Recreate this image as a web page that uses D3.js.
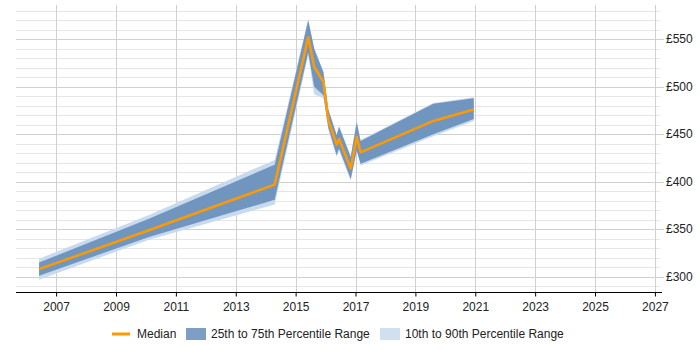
<!DOCTYPE html>
<html>
<head>
<meta charset="utf-8">
<script src="https://cdn.jsdelivr.net/npm/d3@7"></script>
<style>
  body { margin: 0; background: #fff; }
  text { font-family: "Liberation Sans", Arial, sans-serif; font-size: 12px; fill: #222; }
</style>
</head>
<body>
<div id="wrapper"></div>
<script>
// data
const years   = [2006.43, 2010.1, 2014.3, 2015.42, 2015.62, 2015.93, 2016.09, 2016.37, 2016.45, 2016.84, 2017.04, 2017.17, 2019.6, 2020.95]
const p10     = [297, 339, 376, 533, 492, 488, 455, 426, 433, 401, 432, 417, 448, 464]
const p25     = [301, 342, 381, 536, 500, 491, 457, 428, 435, 403, 433, 419, 450, 466]
const median  = [308, 349, 397, 552, 521, 505, 465, 439, 445, 414, 447, 431, 464, 476]
const p75     = [315, 361, 418, 570, 540, 515, 476, 449, 458, 426, 463, 443, 482, 488]
const p90     = [319, 365, 423, 571, 541, 516, 477, 450, 459, 427, 464, 444, 483, 489]
const xTicks  = [2007, 2009, 2011, 2013, 2015, 2017, 2019, 2021, 2023, 2025, 2027]
const yTicks  = [300, 350, 400, 450, 500, 550]
const legendLabels = ["Median", "25th to 75th Percentile Range", "10th to 90th Percentile Range"]

const width = 700, height = 350
const dims = { left: 16, right: 660, top: 5, bottom: 292 }

const svg = d3.select("#wrapper").append("svg")
    .attr("width", width)
    .attr("height", height)

const x = d3.scaleLinear().domain([2005.66, 2027.17]).range([dims.left, dims.right])
const y = d3.scaleLinear().domain([284, 586]).range([dims.bottom, dims.top])

const rows = years.map((yr, i) => ({ yr, p10: p10[i], p25: p25[i], med: median[i], p75: p75[i], p90: p90[i] }))

// grid
const minor = d3.range(290, 590, 10).filter(v => v % 50 != 0 && y(v) > dims.top && y(v) < dims.bottom)
svg.append("g").selectAll("line").data(minor).join("line")
    .attr("x1", dims.left).attr("x2", dims.right)
    .attr("y1", d => Math.round(y(d)) + 0.5).attr("y2", d => Math.round(y(d)) + 0.5)
    .attr("stroke", "#e6e6e6")
svg.append("g").selectAll("line").data(yTicks).join("line")
    .attr("x1", dims.left).attr("x2", dims.right + 4)
    .attr("y1", d => Math.round(y(d)) + 0.5).attr("y2", d => Math.round(y(d)) + 0.5)
    .attr("stroke", "#d0d0d0")
svg.append("g").selectAll("line").data(xTicks).join("line")
    .attr("x1", d => Math.round(x(d)) + 0.5).attr("x2", d => Math.round(x(d)) + 0.5)
    .attr("y1", dims.top).attr("y2", dims.bottom)
    .attr("stroke", "#d0d0d0")

// bands
const band = (lo, hi) => d3.area().x(d => x(d.yr)).y0(d => y(d[lo])).y1(d => y(d[hi]))
svg.append("path").datum(rows)
    .attr("d", band("p10", "p90"))
    .attr("fill", "#c8daee")
svg.append("path").datum(rows)
    .attr("d", band("p25", "p75"))
    .attr("fill", "#7096c0")
svg.append("path").datum(rows)
    .attr("d", d3.line().x(d => x(d.yr)).y(d => y(d.med)))
    .attr("fill", "none")
    .attr("stroke", "#ff9900")
    .attr("stroke-width", 2.5)
    .attr("stroke-linejoin", "round")

// x axis
const xAxis = svg.append("g")
    .attr("transform", `translate(0,${dims.bottom + 0.5})`)
    .call(d3.axisBottom(x).tickValues(xTicks).tickFormat(d3.format("d")).tickSize(4).tickPadding(6))
xAxis.select(".domain").attr("d", `M${dims.left},0H${dims.right + 2}`).attr("stroke", "#000")
xAxis.selectAll("text").style("font-size", "12px").attr("fill", "#222")

// y labels on the right
svg.append("g").selectAll("text").data(yTicks).join("text")
    .attr("x", dims.right + 6)
    .attr("y", d => y(d))
    .attr("dy", "0.35em")
    .text(d => "£" + d)

// legend
const legend = svg.append("g").attr("transform", "translate(0,334)")
legend.append("line")
    .attr("x1", 112).attr("x2", 130)
    .attr("stroke", "#ff9900").attr("stroke-width", 3)
legend.append("text").attr("x", 137).attr("dy", "0.35em").text(legendLabels[0])
legend.append("rect").attr("x", 186).attr("y", -6).attr("width", 20).attr("height", 12).attr("fill", "#7d9fc4")
legend.append("text").attr("x", 211).attr("dy", "0.35em").text(legendLabels[1])
legend.append("rect").attr("x", 380).attr("y", -6).attr("width", 20).attr("height", 12).attr("fill", "#d0e0ef")
legend.append("text").attr("x", 405).attr("dy", "0.35em").text(legendLabels[2])
</script>
</body>
</html>
